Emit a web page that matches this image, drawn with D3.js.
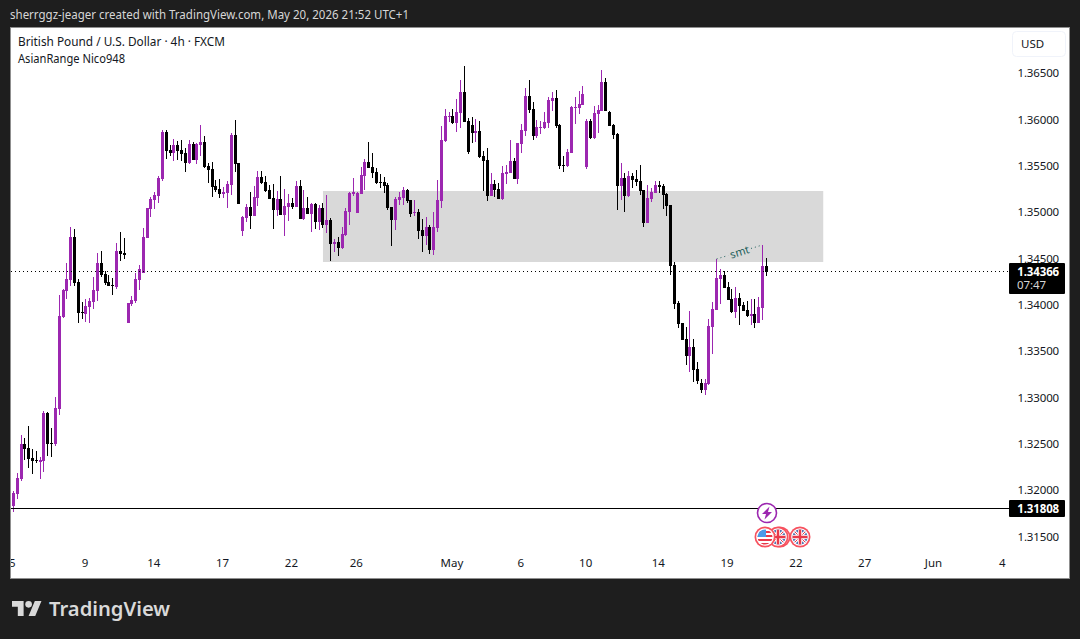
<!DOCTYPE html>
<html>
<head>
<meta charset="utf-8">
<script src="https://d3js.org/d3.v7.min.js"></script>
<style>
  html, body { margin: 0; padding: 0; background: #1e1e1e; }
  svg { display: block; }
  text { font-family: 'Noto Sans', sans-serif; }
</style>
</head>
<body>
<div id="chart"></div>
<script>
let width = 1080
let height = 639

// GBPUSD 4h candles
var opens = [1.31980,1.31829,1.31959,1.32120,1.32498,1.32455,1.32347,1.32325,1.32303,1.32314,1.32833,1.32509,1.32498,1.32876,1.33867,1.34148,1.34267,1.34730,1.34245,1.33921,
1.33900,1.33975,1.34029,1.34148,1.34451,1.34332,1.34245,1.34213,1.34191,1.34580,1.34559,1.33804,1.34008,1.34040,1.34267,1.34343,1.34720,1.35033,1.35130,1.35173,
1.35357,1.35863,1.35669,1.35637,1.35723,1.35669,1.35637,1.35530,1.35734,1.35562,1.35723,1.35755,1.35497,1.35465,1.35281,1.35249,1.35195,1.35206,1.35292,1.35831,
1.35530,1.34795,1.34936,1.35054,1.34957,1.35152,1.35378,1.35324,1.35238,1.35152,1.35022,1.35141,1.34968,1.35054,1.35098,1.35054,1.35281,1.34925,1.35044,1.34979,
1.35087,1.34892,1.35044,1.34860,1.34914,1.34656,1.34678,1.34613,1.34752,1.35000,1.35195,1.34990,1.35195,1.35389,1.35540,1.35486,1.35432,1.35324,1.35324,1.35292,
1.35054,1.34914,1.35130,1.35152,1.35238,1.35130,1.34990,1.35000,1.34806,1.34741,1.34838,1.34591,1.34828,1.35119,1.35766,1.36025,1.36036,1.35961,1.36069,1.36295,
1.35982,1.35939,1.35853,1.35874,1.35604,1.35562,1.35173,1.35303,1.35249,1.35141,1.35411,1.35422,1.35551,1.35357,1.35734,1.35874,1.36252,1.36112,1.35820,1.35907,
1.35907,1.35961,1.36198,1.36230,1.35939,1.35508,1.35497,1.35637,1.36123,1.36123,1.36155,1.35486,1.35982,1.35799,1.36058,1.36090,1.36403,1.36079,1.35939,1.35842,
1.35281,1.35368,1.35173,1.35389,1.35357,1.35335,1.35238,1.34882,1.35141,1.35206,1.35292,1.35281,1.35195,1.35076,1.34429,1.34019,1.33804,1.33631,1.33447,1.33544,
1.33307,1.33156,1.33080,1.33145,1.33760,1.33943,1.34278,1.34321,1.34191,1.34062,1.33921,1.34073,1.33997,1.33943,1.33879,1.33900,1.33804,1.33965,1.34418]

var highs = [1.31980,1.31991,1.32185,1.32595,1.32563,1.32692,1.32444,1.32422,1.32357,1.32854,1.32843,1.32671,1.33003,1.34105,1.34170,1.34451,1.34838,1.34817,1.34278,1.34029,
1.34062,1.34073,1.34299,1.34559,1.34580,1.34364,1.34321,1.34289,1.34667,1.34784,1.34720,1.34019,1.34094,1.34343,1.34429,1.34828,1.35044,1.35163,1.35216,1.35389,
1.35885,1.35885,1.35723,1.35788,1.35766,1.35777,1.35691,1.35777,1.35755,1.35745,1.35939,1.35820,1.35530,1.35540,1.35346,1.35357,1.35270,1.35335,1.35853,1.35993,
1.35530,1.34957,1.35087,1.35216,1.35281,1.35443,1.35443,1.35389,1.35292,1.35303,1.35227,1.35389,1.35249,1.35195,1.35152,1.35335,1.35346,1.35238,1.35163,1.35098,
1.35098,1.35076,1.35098,1.35184,1.34936,1.34709,1.34730,1.34838,1.35044,1.35216,1.35368,1.35216,1.35486,1.35573,1.35755,1.35637,1.35475,1.35411,1.35378,1.35314,
1.35054,1.35163,1.35216,1.35270,1.35249,1.35130,1.35130,1.35033,1.34925,1.34946,1.34860,1.35000,1.35346,1.35928,1.36112,1.36079,1.36112,1.36220,1.36424,1.36576,
1.36014,1.36025,1.36004,1.35982,1.35658,1.35691,1.35422,1.35346,1.35314,1.35497,1.35508,1.35777,1.35583,1.35745,1.35950,1.36338,1.36424,1.36187,1.35993,1.35982,
1.36079,1.36241,1.36295,1.36317,1.35950,1.35604,1.35680,1.36144,1.36241,1.36306,1.36360,1.36004,1.36004,1.36144,1.36155,1.36532,1.36446,1.36090,1.35950,1.35853,
1.35530,1.35422,1.35443,1.35422,1.35454,1.35508,1.35238,1.35292,1.35259,1.35335,1.35335,1.35303,1.35206,1.35076,1.34461,1.34040,1.33804,1.33760,1.33932,1.33631,
1.33382,1.33199,1.33199,1.33846,1.34029,1.34494,1.34386,1.34364,1.34245,1.34170,1.34191,1.34127,1.34029,1.34040,1.34062,1.34062,1.34084,1.34645,1.34505]

var lows = [1.31808,1.31765,1.31905,1.32099,1.32325,1.32239,1.32174,1.32293,1.32120,1.32195,1.32368,1.32357,1.32476,1.32811,1.33857,1.34062,1.34202,1.34202,1.33804,1.33846,
1.33814,1.33804,1.33954,1.34040,1.34299,1.34213,1.34202,1.34105,1.34170,1.34472,1.34494,1.33804,1.33986,1.34019,1.34159,1.34343,1.34720,1.34946,1.35033,1.35098,
1.35335,1.35573,1.35604,1.35551,1.35562,1.35551,1.35432,1.35519,1.35562,1.35519,1.35604,1.35475,1.35314,1.35163,1.35216,1.35152,1.35152,1.35044,1.35184,1.35432,
1.35087,1.34741,1.34892,1.34817,1.34957,1.35065,1.35303,1.35216,1.35141,1.34817,1.34957,1.34968,1.34741,1.34903,1.35033,1.35054,1.34925,1.34914,1.34979,1.34784,
1.34817,1.34806,1.34828,1.34774,1.34472,1.34570,1.34526,1.34602,1.34741,1.34860,1.35173,1.34990,1.35195,1.35238,1.35475,1.35368,1.35303,1.35259,1.35206,1.35022,
1.34634,1.34806,1.35076,1.35076,1.35098,1.34946,1.34957,1.34709,1.34570,1.34645,1.34548,1.34537,1.34784,1.35044,1.35755,1.35971,1.35950,1.35863,1.35907,1.35971,
1.35626,1.35745,1.35755,1.35583,1.35227,1.35119,1.35173,1.35163,1.35141,1.35130,1.35303,1.35422,1.35357,1.35303,1.35637,1.35820,1.36069,1.35777,1.35799,1.35842,
1.35896,1.35907,1.36090,1.35907,1.35465,1.35432,1.35486,1.35637,1.35950,1.36058,1.36155,1.35465,1.35788,1.35788,1.35853,1.36090,1.36090,1.35928,1.35788,1.35022,
1.35130,1.35000,1.35163,1.35259,1.35281,1.35184,1.34838,1.34882,1.35108,1.35206,1.35206,1.35033,1.34957,1.34321,1.33954,1.33750,1.33620,1.33350,1.33275,1.33166,
1.33145,1.33048,1.33026,1.33134,1.33469,1.33943,1.34008,1.34180,1.34051,1.33911,1.33857,1.33782,1.33932,1.33868,1.33782,1.33750,1.33804,1.33836,1.34310]

var closes = [1.31840,1.31970,1.32132,1.32498,1.32444,1.32336,1.32314,1.32314,1.32325,1.32833,1.32498,1.32498,1.32887,1.33878,1.34159,1.34278,1.34730,1.34235,1.33911,1.33911,
1.33986,1.34040,1.34159,1.34451,1.34321,1.34235,1.34202,1.34202,1.34580,1.34548,1.34537,1.34019,1.34051,1.34278,1.34386,1.34730,1.35044,1.35141,1.35184,1.35368,
1.35863,1.35658,1.35637,1.35723,1.35658,1.35626,1.35530,1.35734,1.35562,1.35734,1.35755,1.35486,1.35454,1.35270,1.35238,1.35195,1.35216,1.35303,1.35831,1.35519,
1.35087,1.34946,1.35054,1.34957,1.35163,1.35378,1.35314,1.35227,1.35141,1.35022,1.35141,1.34968,1.35065,1.35098,1.35054,1.35281,1.34925,1.35044,1.34979,1.35087,
1.34892,1.35044,1.34860,1.34914,1.34656,1.34678,1.34613,1.34763,1.35011,1.35206,1.35216,1.35206,1.35400,1.35540,1.35475,1.35422,1.35314,1.35314,1.35281,1.35044,
1.34914,1.35141,1.35163,1.35238,1.35119,1.34979,1.35000,1.34795,1.34741,1.34838,1.34591,1.34838,1.35130,1.35777,1.36036,1.36036,1.35961,1.36079,1.36295,1.35971,
1.35648,1.35853,1.35874,1.35594,1.35551,1.35173,1.35303,1.35238,1.35141,1.35422,1.35432,1.35551,1.35357,1.35745,1.35885,1.36252,1.36101,1.35820,1.35917,1.35917,
1.35971,1.36209,1.36230,1.35928,1.35497,1.35497,1.35648,1.36133,1.36133,1.36166,1.36273,1.35982,1.35799,1.36069,1.36101,1.36403,1.36090,1.35928,1.35831,1.35281,
1.35368,1.35173,1.35389,1.35346,1.35324,1.35227,1.34882,1.35152,1.35216,1.35292,1.35270,1.35184,1.35065,1.34418,1.34008,1.33793,1.33620,1.33447,1.33544,1.33296,
1.33177,1.33080,1.33156,1.33771,1.33954,1.34289,1.34321,1.34180,1.34051,1.33921,1.34073,1.33986,1.33932,1.33879,1.33900,1.33804,1.33975,1.34418,1.34353]

// axis labels
var priceTicks = [1.365, 1.36, 1.355, 1.35, 1.345, 1.34, 1.335, 1.33, 1.325, 1.32, 1.315]
var dateLabels = ['5', '9', '14', '17', '22', '26', 'May', '6', '10', '14', '19', '22', '27', 'Jun', '4']
var dateIndex = [1, 20, 38, 56, 74, 91, 116, 134, 151, 170, 188, 206, 224, 242, 260]

// drawings on the chart
var zoneIndex = [82, 212.9]
var zonePrice = [1.35227, 1.34461]
var smtIndex = [185, 197]
var smtPrice = [1.34494, 1.34645]
var lastPrice = 1.34366
var levelPrice = 1.31808

let up = '#9c27b0'
let down = '#000000'

let svg = d3
  .select('#chart')
  .append('svg')
  .attr('width', width)
  .attr('height', height)

let x = d3.scaleLinear().domain([0, 198]).range([9.55, 766.3])
let y = d3.scaleLinear().domain([1.365, 1.315]).range([73, 536.5])

// header line
svg
  .append('text')
  .attr('x', 10)
  .attr('y', 19)
  .attr('fill', '#d6d6d6')
  .attr('font-size', 12)
  .attr('textLength', 399)
  .attr('lengthAdjust', 'spacingAndGlyphs')
  .text('sherrggz-jeager created with TradingView.com, May 20, 2026 21:52 UTC+1')

// white panel
svg
  .append('rect')
  .attr('x', 10.5)
  .attr('y', 27.5)
  .attr('width', 1059)
  .attr('height', 551)
  .attr('fill', '#ffffff')
  .attr('stroke', '#8f8f8f')

svg
  .append('clipPath')
  .attr('id', 'plot')
  .append('rect')
  .attr('x', 11)
  .attr('y', 28)
  .attr('width', 998)
  .attr('height', 550)

let plot = svg.append('g').attr('clip-path', 'url(#plot)')

// shaded range
plot
  .append('rect')
  .attr('x', x(zoneIndex[0]))
  .attr('y', y(zonePrice[0]))
  .attr('width', x(zoneIndex[1]) - x(zoneIndex[0]))
  .attr('height', y(zonePrice[1]) - y(zonePrice[0]))
  .attr('fill', '#d9d9d9')

// candles
let candles = plot
  .selectAll('.candle')
  .data(opens)
  .enter()
  .append('g')
  .attr('class', 'candle')
  .attr('shape-rendering', 'crispEdges')
  .attr('fill', (d, i) => (closes[i] >= opens[i] ? up : down))

candles
  .append('rect')
  .attr('x', (d, i) => Math.floor(x(i)))
  .attr('y', (d, i) => Math.round(y(highs[i])))
  .attr('width', 1)
  .attr('height', (d, i) => Math.round(y(lows[i])) - Math.round(y(highs[i])))

candles
  .append('rect')
  .attr('x', (d, i) => Math.floor(x(i)) - 1)
  .attr('y', (d, i) => Math.round(y(Math.max(opens[i], closes[i]))))
  .attr('width', 3)
  .attr('height', (d, i) =>
    Math.max(1, Math.round(y(Math.min(opens[i], closes[i]))) - Math.round(y(Math.max(opens[i], closes[i]))))
  )

// smt trend line, broken round its label
let smtMid = [(smtIndex[0] + smtIndex[1]) / 2, (smtPrice[0] + smtPrice[1]) / 2]
let smtAngle = (Math.atan2(y(smtPrice[1]) - y(smtPrice[0]), x(smtIndex[1]) - x(smtIndex[0])) * 180) / Math.PI

plot
  .append('line')
  .attr('x1', x(smtIndex[0]))
  .attr('y1', y(smtPrice[0]))
  .attr('x2', x(smtIndex[1]))
  .attr('y2', y(smtPrice[1]))
  .attr('stroke', '#1f5f5b')
  .attr('stroke-dasharray', '1 3')

plot
  .append('rect')
  .attr('x', -12)
  .attr('y', -6)
  .attr('width', 24)
  .attr('height', 12)
  .attr('fill', '#d9d9d9')
  .attr('transform', `translate(${x(smtMid[0])}, ${y(smtMid[1])}) rotate(${smtAngle})`)

plot
  .append('text')
  .attr('transform', `translate(${x(smtMid[0])}, ${y(smtMid[1])}) rotate(${smtAngle})`)
  .attr('text-anchor', 'middle')
  .attr('y', 4)
  .attr('font-size', 11)
  .attr('fill', '#1f5f5b')
  .text('smt')

// last price and level lines
plot
  .append('line')
  .attr('x1', 11)
  .attr('x2', 1009)
  .attr('y1', Math.round(y(lastPrice)) + 0.5)
  .attr('y2', Math.round(y(lastPrice)) + 0.5)
  .attr('stroke', '#000')
  .attr('stroke-dasharray', '1 3')

plot
  .append('line')
  .attr('x1', 11)
  .attr('x2', 1009)
  .attr('y1', Math.round(y(levelPrice)) + 0.5)
  .attr('y2', Math.round(y(levelPrice)) + 0.5)
  .attr('stroke', '#000')

// axes
let yAxis = d3
  .axisRight(y)
  .tickValues(priceTicks)
  .tickFormat(d3.format('.5f'))
  .tickSize(0)

svg
  .append('g')
  .attr('class', 'y-axis')
  .attr('transform', 'translate(1059, 0)')
  .call(yAxis)
  .call(g => g.select('.domain').remove())
  .selectAll('text')
  .attr('x', 0)
  .attr('text-anchor', 'end')
  .attr('font-family', "'Noto Sans', sans-serif")
  .attr('font-size', 11.5)
  .attr('letter-spacing', -0.15)
  .attr('fill', '#131722')

let xAxis = d3
  .axisBottom(x)
  .tickValues(dateIndex)
  .tickFormat((d, i) => dateLabels[i])
  .tickSize(0)

// clip wrapper keeps the first date cut at the panel edge
svg
  .append('g')
  .attr('clip-path', 'url(#plot)')
  .append('g')
  .attr('class', 'x-axis')
  .attr('transform', 'translate(-1.5, 556)')
  .call(xAxis)
  .call(g => g.select('.domain').remove())
  .selectAll('text')
  .attr('font-family', "'Noto Sans', sans-serif")
  .attr('font-size', 11.5)
  .attr('fill', '#131722')

// legend
svg
  .append('text')
  .attr('x', 18)
  .attr('y', 46)
  .attr('font-size', 12)
  .attr('fill', '#131722')
  .attr('textLength', 207)
  .attr('lengthAdjust', 'spacingAndGlyphs')
  .text('British Pound / U.S. Dollar · 4h · FXCM')

svg
  .append('text')
  .attr('x', 18)
  .attr('y', 63)
  .attr('font-size', 12)
  .attr('fill', '#131722')
  .attr('textLength', 107)
  .attr('lengthAdjust', 'spacingAndGlyphs')
  .text('AsianRange Nico948')

// currency button
svg
  .append('rect')
  .attr('x', 1012.5)
  .attr('y', 31.5)
  .attr('width', 53)
  .attr('height', 25)
  .attr('rx', 4)
  .attr('fill', '#fff')
  .attr('stroke', '#f0f3fa')

svg
  .append('text')
  .attr('x', 1021)
  .attr('y', 48)
  .attr('font-size', 11.5)
  .attr('fill', '#131722')
  .text('USD')

// price labels
svg
  .append('rect')
  .attr('x', 1009)
  .attr('y', 263)
  .attr('width', 56)
  .attr('height', 31)
  .attr('rx', 1)
  .attr('fill', '#000')

svg
  .append('text')
  .attr('x', 1059)
  .attr('y', 276)
  .attr('text-anchor', 'end')
  .attr('font-size', 11.5)
  .attr('letter-spacing', -0.15)
  .attr('font-weight', 700)
  .attr('fill', '#fff')
  .text(d3.format('.5f')(lastPrice))

svg
  .append('text')
  .attr('x', 1017)
  .attr('y', 289)
  .attr('font-size', 11.5)
  .attr('letter-spacing', -0.1)
  .attr('fill', '#d6d6d6')
  .text('07:47')

svg
  .append('rect')
  .attr('x', 1009)
  .attr('y', 500)
  .attr('width', 56)
  .attr('height', 17)
  .attr('rx', 1)
  .attr('fill', '#000')

svg
  .append('text')
  .attr('x', 1059)
  .attr('y', 513)
  .attr('text-anchor', 'end')
  .attr('font-size', 11.5)
  .attr('letter-spacing', -0.15)
  .attr('font-weight', 700)
  .attr('fill', '#fff')
  .text(d3.format('.5f')(levelPrice))

// event markers
let bolt = svg.append('g').attr('transform', 'translate(767, 513)')

bolt
  .append('circle')
  .attr('r', 9.5)
  .attr('fill', '#fff')
  .attr('stroke', up)
  .attr('stroke-width', 1.6)

bolt
  .append('path')
  .attr('d', 'M2.5 -6.5 L-5 1 H-1 L-2.5 6.5 L5 -1 H1 Z')
  .attr('fill', up)

let defs = svg.append('defs')
defs
  .append('clipPath')
  .attr('id', 'flag')
  .append('circle')
  .attr('r', 7.5)

function drawUk(cx) {
  let g = svg.append('g').attr('transform', `translate(${cx}, 537)`)
  g.append('circle').attr('r', 10.5).attr('fill', '#f7525f')
  g.append('circle').attr('r', 8.8).attr('fill', '#fff')
  let f = g.append('g').attr('clip-path', 'url(#flag)')
  f.append('rect').attr('x', -8).attr('y', -8).attr('width', 16).attr('height', 16).attr('fill', '#1a4a9c')
  f.append('path').attr('d', 'M-8 -8 L8 8 M8 -8 L-8 8').attr('stroke', '#fff').attr('stroke-width', 3)
  f.append('path').attr('d', 'M-8 -8 L8 8 M8 -8 L-8 8').attr('stroke', '#e8394a').attr('stroke-width', 1)
  f.append('path').attr('d', 'M0 -8 V8 M-8 0 H8').attr('stroke', '#fff').attr('stroke-width', 4.5)
  f.append('path').attr('d', 'M0 -8 V8 M-8 0 H8').attr('stroke', '#e8394a').attr('stroke-width', 2.5)
}

function drawUs(cx) {
  let g = svg.append('g').attr('transform', `translate(${cx}, 537)`)
  g.append('circle').attr('r', 10.5).attr('fill', '#f7525f')
  g.append('circle').attr('r', 8.8).attr('fill', '#fff')
  let f = g.append('g').attr('clip-path', 'url(#flag)')
  f.append('rect').attr('x', -8).attr('y', -8).attr('width', 16).attr('height', 16).attr('fill', '#fff')
  d3.range(-6, 8, 4).forEach(s => {
    f.append('rect').attr('x', -8).attr('y', s).attr('width', 16).attr('height', 2).attr('fill', '#e8394a')
  })
  f.append('rect').attr('x', -8).attr('y', -8).attr('width', 9).attr('height', 8).attr('fill', '#4a9be8')
}

drawUk(800)
drawUk(780)
drawUk(778)
drawUs(765)

// footer logo
let logo = svg.append('g').attr('transform', 'translate(12, 597.7) scale(0.83)').attr('fill', '#d9d9d9')
logo.append('path').attr('d', 'M14 22H7V11H0V4h14v18zM28 22h-8l7.5-18h8L28 22z')
logo.append('circle').attr('cx', 20).attr('cy', 8).attr('r', 4)

svg
  .append('text')
  .attr('x', 49)
  .attr('y', 616)
  .attr('font-family', 'Inter, sans-serif')
  .attr('font-size', 20.2)
  .attr('font-weight', 600)
  .attr('fill', '#d9d9d9')
  .text('TradingView')
</script>
</body>
</html>
